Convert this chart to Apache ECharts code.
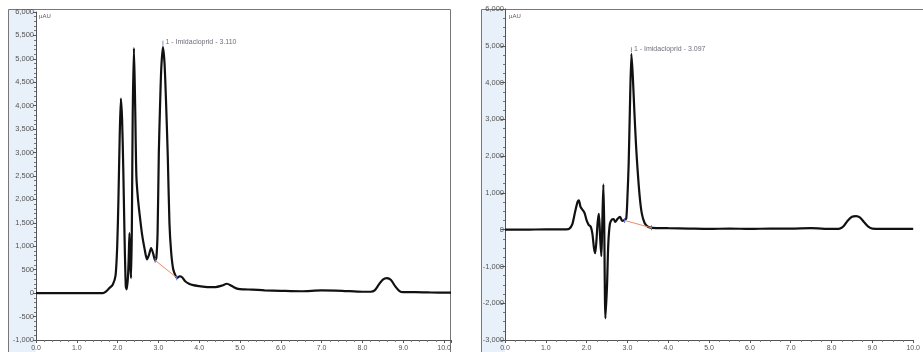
<!DOCTYPE html>
<html>
<head>
<meta charset="utf-8">
<script src="https://cdn.jsdelivr.net/npm/echarts@6/dist/echarts.min.js"></script>
<style>
html,body{margin:0;padding:0;background:#fff;}
#chart{width:923px;height:352px;}
</style>
</head>
<body>
<div id="chart"></div>
<script>
// ---- Left chromatogram (time, min ; signal, µAU) ----
const leftTime = [0, 0.5, 1.0, 1.5, 1.64, 1.72, 1.80, 1.88, 1.95, 1.99, 2.02, 2.05, 2.08, 2.11, 2.14, 2.17, 2.20, 2.22, 2.25, 2.27, 2.29, 2.31, 2.33, 2.35, 2.37, 2.40, 2.43, 2.46, 2.50, 2.55, 2.60, 2.66, 2.72, 2.77, 2.82, 2.87, 2.92, 2.95, 2.98, 3.01, 3.04, 3.07, 3.11, 3.15, 3.19, 3.23, 3.27, 3.31, 3.36, 3.42, 3.46, 3.52, 3.58, 3.65, 3.75, 3.85, 4.0, 4.2, 4.4, 4.55, 4.68, 4.8, 4.95, 5.1, 5.3, 5.6, 6.0, 6.5, 7.0, 7.5, 8.0, 8.2, 8.3, 8.4, 8.5, 8.6, 8.7, 8.8, 8.9, 9.0, 9.3, 9.6, 10.0, 10.17];
const leftSignal = [0, 0, 0, 0, 0, 40, 110, 180, 380, 1000, 2000, 3300, 4150, 3700, 2600, 1200, 150, 80, 300, 700, 1280, 600, 320, 1500, 3800, 5230, 4000, 2500, 2000, 1600, 1250, 950, 720, 820, 960, 850, 700, 760, 1300, 3000, 4000, 4800, 5250, 4900, 4000, 2900, 1500, 900, 520, 370, 330, 360, 340, 260, 200, 170, 150, 130, 130, 160, 200, 150, 90, 80, 75, 60, 50, 40, 60, 50, 30, 30, 60, 180, 290, 320, 280, 150, 50, 20, 20, 15, 10, 10];
const leftBaseTime = [2.92, 3.45];
const leftBaseSignal = [700, 330];
const leftPeak = [3.110, 5250];
const leftPeakLabel = '1 - Imidacloprid - 3.110';

// ---- Right chromatogram ----
const rightTime = [0, 0.5, 1.0, 1.5, 1.57, 1.65, 1.72, 1.78, 1.81, 1.85, 1.90, 1.95, 2.00, 2.05, 2.10, 2.14, 2.18, 2.21, 2.24, 2.27, 2.30, 2.33, 2.36, 2.38, 2.41, 2.43, 2.46, 2.50, 2.53, 2.57, 2.62, 2.66, 2.70, 2.76, 2.82, 2.87, 2.92, 2.97, 3.00, 3.03, 3.06, 3.097, 3.13, 3.17, 3.21, 3.25, 3.30, 3.35, 3.42, 3.50, 3.60, 4.0, 4.5, 5.0, 5.5, 6.0, 6.5, 7.0, 7.5, 8.0, 8.2, 8.3, 8.4, 8.5, 8.6, 8.7, 8.8, 8.9, 9.0, 9.5, 10.0];
const rightSignal = [0, 0, 10, 10, 20, 150, 500, 760, 800, 620, 540, 450, 250, 130, 80, -100, -500, -640, -300, 200, 430, -200, -720, 0, 1230, 200, -2410, -1500, -400, 160, 280, 290, 210, 300, 350, 240, 260, 300, 900, 1800, 3300, 4780, 4200, 3200, 2300, 1600, 900, 450, 180, 80, 50, 40, 30, 20, 30, 20, 30, 30, 40, 20, 30, 100, 250, 350, 370, 330, 200, 80, 30, 20, 20];
const rightBaseTime = [2.93, 3.59];
const rightBaseSignal = [250, 50];
const rightPeak = [3.097, 4780];
const rightPeakLabel = '1 - Imidacloprid - 3.097';

// ---- Axis settings ----
const leftYTicks = {min: -1000, max: 6000, interval: 500};
const rightYTicks = {min: -3000, max: 6000, interval: 1000};
const xTicks = {min: 0, interval: 1};
const unitLabel = 'µAU';

const pairs = (t, v) => t.map((x, i) => [x, v[i]]);
const FONT = '"Liberation Sans", Arial, sans-serif';
const fmtY = v => v.toLocaleString('en-US');
const fmtX = v => v.toFixed(1);

function xAxisCfg(gi, max, minorSplit) {
  return {
    type: 'value', gridIndex: gi, min: xTicks.min, max: max, interval: xTicks.interval,
    axisLine: {show: true, onZero: false, lineStyle: {color: '#555', width: 1}},
    axisTick: {show: true, length: 3, lineStyle: {color: '#555'}},
    minorTick: {show: true, splitNumber: minorSplit, length: 2, lineStyle: {color: '#777'}},
    splitLine: {show: false},
    axisLabel: {show: true, formatter: fmtX, fontSize: 7, color: '#555', margin: 5, fontFamily: FONT, showMaxLabel: gi === 1}
  };
}
function yAxisCfg(gi, t, minorSplit, margin, tickLen) {
  return {
    type: 'value', gridIndex: gi, min: t.min, max: t.max, interval: t.interval,
    axisLine: {show: true, lineStyle: {color: '#555', width: 1}},
    axisTick: {show: true, length: tickLen, lineStyle: {color: '#555'}},
    minorTick: {show: true, splitNumber: minorSplit, length: 2, lineStyle: {color: '#777'}},
    splitLine: {show: false},
    axisLabel: {show: true, formatter: fmtY, fontSize: 7.5, color: '#555', margin: margin, fontFamily: FONT}
  };
}
function traceSeries(i, data) {
  return {
    type: 'line', xAxisIndex: i, yAxisIndex: i, data: data, showSymbol: false,
    smooth: 0.25, lineStyle: {color: '#111', width: 2.2}, z: 3, animation: false
  };
}
function baseSeries(i, data) {
  return {
    type: 'line', xAxisIndex: i, yAxisIndex: i, data: data, showSymbol: true,
    symbol: 'rect', symbolSize: [1, 5], itemStyle: {color: '#6070d0'},
    lineStyle: {color: '#f08a6a', width: 1}, z: 4, animation: false
  };
}
function peakSeries(i, pt, text) {
  return {
    type: 'scatter', xAxisIndex: i, yAxisIndex: i, data: [pt],
    symbol: 'rect', symbolSize: [1, 5], symbolOffset: [0, -4], itemStyle: {color: '#6070d0'},
    label: {show: true, position: 'right', distance: 2, offset: [0, -1], formatter: text,
            fontSize: 7, color: '#4a4a5a', fontFamily: FONT},
    z: 5, animation: false
  };
}

const chart = echarts.init(document.getElementById('chart'), null, {renderer: 'canvas'});
chart.setOption({
  animation: false,
  backgroundColor: '#fff',
  grid: [
    {left: 36, top: 12, width: 415, height: 328},
    {left: 505, top: 9, width: 415, height: 336}
  ],
  xAxis: [xAxisCfg(0, 10.17, 5), xAxisCfg(1, 10, 4)],
  yAxis: [yAxisCfg(0, leftYTicks, 5, 2, 3), yAxisCfg(1, rightYTicks, 4, 1, 4)],
  graphic: [
    {type: 'rect', z: -10, shape: {x: 8.5, y: 9.5, width: 442, height: 360}, style: {fill: '#fff', stroke: '#777', lineWidth: 1}},
    {type: 'rect', z: -9, shape: {x: 9, y: 10, width: 26.5, height: 350}, style: {fill: '#e8f0f9'}},
    {type: 'rect', z: -10, shape: {x: 481.5, y: 9.5, width: 460, height: 360}, style: {fill: '#fff', stroke: '#777', lineWidth: 1}},
    {type: 'rect', z: -9, shape: {x: 482, y: 10, width: 23, height: 350}, style: {fill: '#e8f0f9'}},
    {type: 'text', z: 10, left: 39, top: 13, style: {text: unitLabel, fontSize: 6, fill: '#6a4a6a', fontFamily: FONT}},
    {type: 'text', z: 10, left: 509, top: 13, style: {text: unitLabel, fontSize: 6, fill: '#6a4a6a', fontFamily: FONT}}
  ],
  series: [
    traceSeries(0, pairs(leftTime, leftSignal)),
    baseSeries(0, pairs(leftBaseTime, leftBaseSignal)),
    peakSeries(0, leftPeak, leftPeakLabel),
    traceSeries(1, pairs(rightTime, rightSignal)),
    baseSeries(1, pairs(rightBaseTime, rightBaseSignal)),
    peakSeries(1, rightPeak, rightPeakLabel)
  ]
});
</script>
</body>
</html>
